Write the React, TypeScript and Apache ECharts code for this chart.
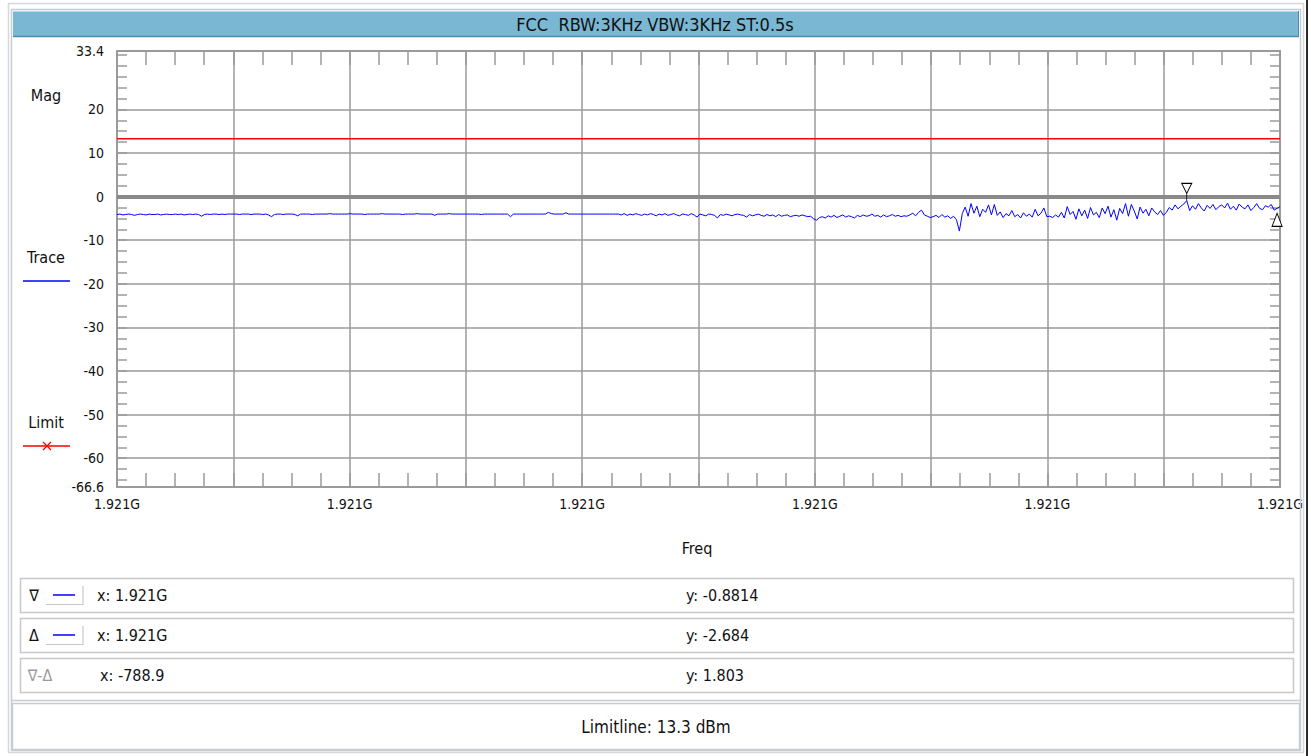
import React, { useEffect, useRef } from "react";
import * as echarts from "echarts";

const titleText = "FCC  RBW:3KHz VBW:3KHz ST:0.5s";
const yAxisName = "Mag";
const xAxisName = "Freq";
const freqStartHz = 1920995000;
const freqSpanHz = 10000;
const freqGridStepHz = 1000;
const freqLabelStepHz = 2000;
const yMin = -66.6;
const yMax = 33.4;
const yLabelValues = [-66.6, -60, -50, -40, -30, -20, -10, 0, 10, 20, 33.4];
const yGridValues = [-60, -50, -40, -30, -20, -10, 0, 10, 20];
const yMinorTickValues = [
  -65, -62.5, -60, -57.5, -55, -52.5, -50, -47.5, -45, -42.5, -40, -37.5, -35, -32.5, -30, -27.5,
  -25, -22.5, -20, -17.5, -15, -12.5, -10, -7.5, -5, -2.5, 0, 2.5, 5, 7.5, 10, 12.5, 15, 17.5, 20,
  22.5, 25, 27.5, 30, 32.5,
];
const referenceLevel = 0;
const limitLevel = 13.3;
const deltaMarkerIndex = 398;

const traceValues = [
  -4.1, -4.0, -4.2, -4.1, -4.0, -4.1, -4.3, -4.1, -4.0, -4.1, -4.2, -4.0, -4.1, -4.1, -4.0, -4.2, -4.1, -4.0, -4.1, -4.1,
  -4.0, -4.1, -4.0, -4.2, -4.1, -4.0, -4.1, -4.0, -4.1, -4.5, -4.1, -4.0, -4.1, -4.0, -4.0, -4.1, -4.0, -4.1, -4.0, -4.0,
  -4.0, -4.0, -4.1, -4.0, -4.0, -4.0, -4.1, -4.0, -4.0, -4.0, -4.1, -4.0, -4.2, -4.6, -4.1, -4.0, -4.0, -4.1, -4.0, -4.0,
  -4.0, -4.1, -4.4, -4.0, -4.0, -4.0, -4.0, -4.1, -4.0, -4.0, -4.0, -4.0, -4.0, -3.9, -4.0, -4.0, -4.0, -4.0, -4.0, -4.0,
  -3.9, -4.0, -4.0, -4.0, -4.0, -4.1, -4.0, -4.0, -4.0, -4.0, -4.0, -3.9, -4.0, -4.0, -4.0, -4.0, -4.0, -4.0, -4.1, -4.0,
  -4.0, -4.0, -4.0, -3.9, -4.0, -4.0, -4.0, -4.0, -4.0, -4.3, -4.0, -4.0, -4.0, -4.0, -3.9, -4.0, -4.0, -4.0, -4.0, -4.0,
  -4.0, -4.0, -4.0, -4.0, -4.0, -4.1, -4.0, -4.0, -4.0, -4.0, -4.0, -4.0, -4.0, -4.0, -4.0, -4.6, -4.0, -4.0, -4.0, -4.0,
  -4.0, -4.0, -4.0, -4.0, -4.0, -4.0, -4.0, -4.0, -3.6, -3.9, -4.0, -4.0, -4.0, -4.0, -3.7, -4.0, -4.0, -4.0, -4.0, -4.0,
  -4.0, -4.0, -4.0, -4.0, -4.0, -4.0, -4.0, -4.0, -4.0, -4.0, -4.0, -4.0, -4.0, -4.2, -3.9, -4.3, -4.0, -4.2, -3.9, -4.1,
  -4.3, -4.0, -4.2, -3.9, -4.1, -4.4, -4.0, -4.2, -3.9, -4.3, -4.1, -3.9, -4.2, -4.4, -4.0, -4.1, -4.3, -3.9, -4.2, -4.7,
  -4.0, -4.2, -4.4, -4.0, -4.1, -4.3, -4.9, -4.1, -4.3, -4.0, -4.2, -4.4, -4.1, -4.0, -4.2, -4.3, -4.7, -4.1, -4.4, -4.2,
  -4.0, -4.3, -4.5, -4.1, -4.4, -4.2, -4.6, -4.1, -4.5, -4.3, -4.2, -4.6, -4.4, -4.3, -4.5, -4.2, -4.4, -4.6, -4.5, -5.1,
  -5.4, -4.8, -4.6, -4.9, -4.4, -4.7, -4.3, -4.8, -4.5, -4.2, -4.7, -4.4, -4.6, -4.9, -4.3, -4.6, -4.2, -4.5, -4.4, -4.0,
  -4.5, -4.3, -4.7, -4.2, -4.6, -4.4, -4.1, -4.5, -4.3, -4.6, -4.4, -4.5, -4.2, -3.8, -4.4, -3.6, -3.1, -4.2, -4.5, -4.8,
  -4.6, -4.3, -4.8, -4.1, -4.7, -4.4, -5.0, -4.5, -5.3, -7.9, -3.9, -2.4, -4.5, -1.6, -3.8, -2.2, -4.6, -2.9, -3.6, -1.9,
  -4.2, -1.8, -4.3, -3.5, -4.8, -3.9, -4.4, -3.2, -4.6, -4.1, -4.9, -3.7, -4.5, -4.0, -4.7, -2.9, -4.4, -3.8, -2.6, -4.6,
  -4.5, -4.8, -4.2, -4.7, -3.6, -4.9, -2.3, -4.1, -3.4, -5.2, -2.8, -4.4, -3.1, -5.0, -2.5, -4.2, -3.6, -4.8, -2.6, -3.9,
  -2.2, -4.7, -3.0, -5.4, -2.7, -3.9, -1.6, -4.5, -1.8, -3.3, -5.1, -2.4, -3.8, -2.9, -4.4, -2.6, -3.5, -4.1, -3.2, -4.3,
  -3.6, -2.5, -3.1, -1.9, -2.8, -2.2, -1.7, -0.8814, -3.2, -2.1, -2.9, -1.6, -2.6, -3.3, -2.0, -2.7, -1.8, -3.0, -2.3, -1.9,
  -2.6, -1.5, -2.9, -2.2, -3.1, -1.7, -2.4, -2.8, -1.9, -3.2, -2.5, -1.6, -2.7, -3.0, -2.1, -2.4, -1.8, -3.1, -2.684, -2.3,
];

const markerRows = [
  { symbol: "∇", xText: "x: 1.921G", yText: "y: -0.8814", hasLine: true, gray: false },
  { symbol: "Δ", xText: "x: 1.921G", yText: "y: -2.684", hasLine: true, gray: false },
  { symbol: "∇-Δ", xText: "x: -788.9", yText: "y: 1.803", hasLine: false, gray: true },
];
const legendItems = [
  { name: "Trace", color: "#0000ff", cross: false },
  { name: "Limit", color: "#ff0000", cross: true },
];
const limitLineText = "Limitline: 13.3 dBm";

const FONT = "'Liberation Sans Narrow','Arial Narrow','DejaVu Sans Condensed',sans-serif";
const GRID_COLOR = "#9a9a9a";

function txt(text: string, x: number, y: number, size: number, align = "left", fill = "#111") {
  return {
    type: "text",
    z: 50,
    silent: true,
    style: {
      text,
      x,
      y,
      fill,
      font: `${size}px ${FONT}`,
      align,
      textAlign: align,
      verticalAlign: "middle",
      textVerticalAlign: "middle",
    },
  };
}
function ln(x1: number, y1: number, x2: number, y2: number, stroke: string, lineWidth = 1) {
  return { type: "line", z: 40, silent: true, shape: { x1, y1, x2, y2 }, style: { stroke, lineWidth } };
}
function box(x: number, y: number, width: number, height: number, stroke: string, fill = "none", lineWidth = 1) {
  return { type: "rect", z: 30, silent: true, shape: { x, y, width, height }, style: { stroke, fill, lineWidth } };
}

export default function App() {
  const ref = useRef<HTMLDivElement>(null);
  useEffect(() => {
    if (!ref.current) return;
    const chart = echarts.init(ref.current, undefined, { renderer: "svg" });
    const n = traceValues.length;
    const freqs = traceValues.map((_, i) => freqStartHz + (i * freqSpanHz) / (n - 1));
    const traceData = traceValues.map((v, i) => [freqs[i], v]);
    let peakIndex = 0;
    traceValues.forEach((v, i) => {
      if (v > traceValues[peakIndex]) peakIndex = i;
    });
    const xMin = freqStartHz;
    const xMax = freqStartHz + freqSpanHz;

    const graphics: any[] = [];
    // outer frame
    graphics.push(box(8.5, 3.5, 1295, 749, "#d4d8dc", "none", 1.5));
    graphics.push(box(11.5, 9.5, 1289, 741, "#c6ccd2", "none", 1.5));
    graphics.push(ln(1307, 0, 1307, 756, "#2a2a2a", 2));
    // title bar
    graphics.push({ type: "rect", z: 30, silent: true, shape: { x: 13, y: 11, width: 1286, height: 26 }, style: { fill: "#79b7d3" } });
    graphics.push(ln(13, 11.5, 1299, 11.5, "#a9dcef", 1));
    graphics.push(ln(13, 36.5, 1299, 36.5, "#4d8cab", 1.5));
    graphics.push(ln(1298.5, 11, 1298.5, 37, "#4d8cab", 1));
    graphics.push(txt(titleText, 655, 24, 18, "center"));
    // axis names
    graphics.push(txt(yAxisName, 46, 95, 16, "center"));
    graphics.push(txt(xAxisName, 697, 548, 16, "center"));
    // legend
    legendItems.forEach((it, k) => {
      const ty = k === 0 ? 257 : 422;
      graphics.push(txt(it.name, 46, ty, 16, "center"));
      graphics.push(ln(23, ty + 24, 70, ty + 24, it.color, 1.5));
      if (it.cross) {
        graphics.push(ln(43, ty + 20, 51, ty + 28, it.color, 1.2));
        graphics.push(ln(43, ty + 28, 51, ty + 20, it.color, 1.2));
      }
    });
    // marker table
    markerRows.forEach((row, k) => {
      const top = 578 + k * 40;
      const cy = top + 17;
      graphics.push(box(20.5, top + 0.5, 1273, 34, "#c8c8c8", "#fff", 1.5));
      const symX = row.symbol.length > 1 ? 40 : 34;
      graphics.push(txt(row.symbol, symX, cy, 16, "center", row.gray ? "#9a9a9a" : "#111"));
      if (row.hasLine) {
        graphics.push(ln(46, cy + 9.5, 83, cy + 9.5, "#c8c8c8", 1.2));
        graphics.push(ln(83, cy - 9, 83, cy + 10, "#c8c8c8", 1.2));
        graphics.push(ln(53, cy, 75, cy, "#0000ff", 1.5));
      }
      graphics.push(txt(row.xText, row.hasLine ? 97 : 100, cy, 16, "left"));
      graphics.push(txt(row.yText, 686, cy, 16, "left"));
    });
    graphics.push(ln(11, 700.5, 1301, 700.5, "#c6ccd2", 1.5));
    graphics.push(box(12.5, 703.5, 1287, 46, "#c6ccd2", "#fff", 1.5));
    graphics.push(txt(limitLineText, 656, 727, 17, "center"));

    const xAxisCommon = {
      type: "value",
      min: xMin,
      max: xMax,
      interval: freqGridStepHz,
      axisLine: { show: true, onZero: false, lineStyle: { color: GRID_COLOR, width: 2 } },
      axisTick: { show: true, inside: true, length: 14, lineStyle: { color: GRID_COLOR, width: 1.5 } },
      minorTick: { show: true, splitNumber: 4, length: 14, lineStyle: { color: GRID_COLOR, width: 1.5 } },
    };
    const yAxisCommon = {
      type: "value",
      min: yMin,
      max: yMax,
      axisLine: { show: true, onZero: false, lineStyle: { color: GRID_COLOR, width: 2 } },
      axisTick: {
        show: true,
        inside: true,
        length: 10,
        customValues: yMinorTickValues,
        lineStyle: { color: GRID_COLOR, width: 1.5 },
      },
      splitLine: { show: false },
    };

    chart.setOption({
      animation: false,
      backgroundColor: "#ffffff",
      grid: { left: 117, top: 51, width: 1163, height: 436, containLabel: false },
      xAxis: [
        {
          ...xAxisCommon,
          position: "bottom",
          splitLine: { show: true, lineStyle: { color: GRID_COLOR, width: 1.5 } },
          axisLabel: {
            show: true,
            margin: 10,
            color: "#111",
            fontSize: 14,
            fontFamily: FONT,
            formatter: (v: number) =>
              Math.round(v - xMin) % freqLabelStepHz === 0 ? (v / 1e9).toFixed(3) + "G" : "",
          },
        },
        {
          ...xAxisCommon,
          position: "top",
          splitLine: { show: false },
          axisLabel: { show: false },
        },
      ],
      yAxis: [
        {
          ...yAxisCommon,
          position: "left",
          axisLabel: {
            show: true,
            margin: 13,
            color: "#111",
            fontSize: 14,
            fontFamily: FONT,
            customValues: yLabelValues,
            formatter: (v: number) => String(v),
          },
        },
        {
          ...yAxisCommon,
          position: "right",
          axisLabel: { show: false },
        },
      ],
      series: [
        {
          name: "Grid",
          type: "line",
          data: [],
          silent: true,
          markLine: {
            silent: true,
            symbol: "none",
            label: { show: false },
            lineStyle: { color: GRID_COLOR, width: 1.5, type: "solid" },
            data: yGridValues.map((v) => ({ yAxis: v })),
          },
        },
        {
          name: "Reference",
          type: "line",
          data: [],
          silent: true,
          z: 3,
          markLine: {
            silent: true,
            symbol: "none",
            label: { show: false },
            lineStyle: { color: "#8a8a8a", width: 4, type: "solid" },
            data: [{ yAxis: referenceLevel }],
          },
        },
        {
          name: "Limit",
          type: "line",
          z: 4,
          data: [
            [xMin, limitLevel],
            [xMax, limitLevel],
          ],
          symbol: "none",
          silent: true,
          lineStyle: { color: "#ff0000", width: 1.5 },
        },
        {
          name: "Trace",
          type: "line",
          z: 5,
          data: traceData,
          symbol: "none",
          silent: true,
          lineStyle: { color: "#0000ff", width: 1 },
          markPoint: {
            silent: true,
            label: { show: false },
            data: [
              {
                coord: traceData[peakIndex],
                symbol: "path://M0,0 L10,0 L5,10 Z M5,10 L5,17",
                symbolSize: [10, 17],
                symbolOffset: [0, -8.5],
                itemStyle: { color: "#ffffff", borderColor: "#000000", borderWidth: 1 },
              },
              {
                coord: traceData[deltaMarkerIndex],
                symbol: "path://M5,0 L10,13 L0,13 Z",
                symbolSize: [10, 13],
                symbolOffset: [0, 11.5],
                itemStyle: { color: "#ffffff", borderColor: "#000000", borderWidth: 1 },
              },
            ],
          },
        },
      ],
      graphic: graphics,
    });
    return () => chart.dispose();
  }, []);
  return (
    <div
      ref={ref}
      style={{ position: "fixed", left: 0, top: 0, width: 1311, height: 756, background: "#fff" }}
    />
  );
}
